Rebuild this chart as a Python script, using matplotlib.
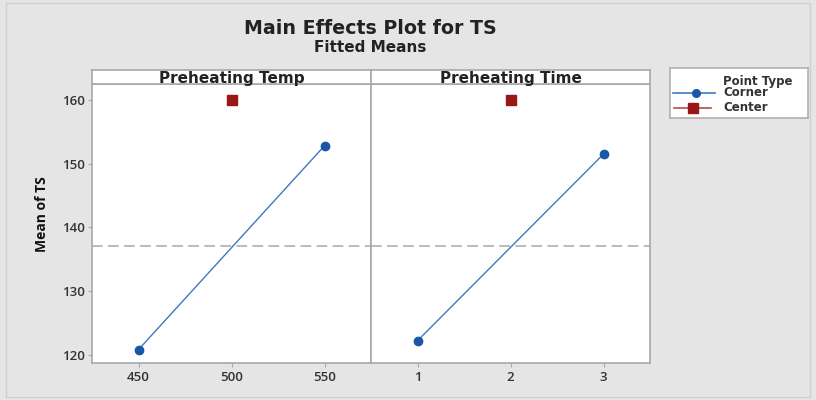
import matplotlib
matplotlib.use("Agg")
import matplotlib.pyplot as plt
from matplotlib.patches import Rectangle

plt.rcParams['font.family'] = ['Open Sans', 'DejaVu Sans']

# Data
factors = ["Preheating Temp", "Preheating Time"]
corner_x = [[450, 550], [1, 3]]
corner_y = [[120.8, 152.8], [122.2, 151.5]]
center_x = [500, 2]
center_y = [160.0, 160.0]
grand_mean = 137.0
xticks = [[450, 500, 550], [1, 2, 3]]
xlims = [(425, 575), (0.5, 3.5)]
yticks = [120, 130, 140, 150, 160]
ylim = (118.7, 162.5)
legend_title = "Point Type"
legend_labels = ["Corner", "Center"]

line_c = "#3f78c2"
corner_c = "#1a56a6"
center_c = "#9a1717"
center_line_c = "#b84a4a"
frame_c = "#a8a8a8"
text_c = "#333333"

fig = plt.figure(figsize=(8.16, 4.0), dpi=100, facecolor="#e5e5e5")
fig.patches.append(Rectangle((0.007, 0.008), 0.986, 0.985, transform=fig.transFigure,
                             fill=False, edgecolor="#cfcfcf", lw=1))

W, H = 816, 400
lefts = [92, 371]
pw = 279
top_plot, bot_plot = 84, 363
head_top = 70

for i in range(2):
    ax = fig.add_axes([lefts[i] / W, 1 - bot_plot / H, pw / W, (bot_plot - top_plot) / H])
    ax.set_facecolor("white")
    ax.plot(corner_x[i], corner_y[i], color=line_c, lw=1.0, zorder=2)
    ax.plot(corner_x[i], corner_y[i], linestyle="none", marker="o", ms=6,
            color=corner_c, zorder=3)
    ax.plot([center_x[i]], [center_y[i]], linestyle="none", marker="s", ms=7,
            color=center_c, zorder=3)
    ax.axhline(grand_mean, color="#a8a8a8", lw=1.1, ls=(0, (7, 3.5)), zorder=1)
    ax.set_xlim(*xlims[i])
    ax.set_ylim(*ylim)
    ax.set_xticks(xticks[i])
    ax.set_xticklabels([str(v) for v in xticks[i]], fontsize=9.5, fontweight="semibold", color=text_c)
    ax.set_yticks(yticks)
    if i == 0:
        ax.set_yticklabels([str(v) for v in yticks], fontsize=9.5, fontweight="semibold", color=text_c)
        ax.tick_params(axis="y", length=3, color=frame_c, pad=2)
    else:
        ax.tick_params(axis="y", left=False, labelleft=False)
    ax.tick_params(axis="x", length=3, color=frame_c, pad=3)
    for s in ax.spines.values():
        s.set_color(frame_c)
        s.set_linewidth(1.2)
    # header strip
    hx = fig.add_axes([lefts[i] / W, 1 - top_plot / H, pw / W, (top_plot - head_top) / H])
    hx.set_facecolor("white")
    hx.set_xticks([])
    hx.set_yticks([])
    for s in hx.spines.values():
        s.set_color(frame_c)
        s.set_linewidth(1.2)
    hx.text(0.5, 0.42, factors[i], ha="center", va="center", fontsize=11,
            fontweight="bold", family="DejaVu Sans", color="#222222", transform=hx.transAxes)

fig.text(42 / W, 1 - 214 / H, "Mean of TS", ha="center", va="center", rotation=90,
         fontsize=10, fontweight="bold", color="#111111")

fig.text(370 / W, 1 - 28 / H, "Main Effects Plot for TS", ha="center", va="center",
         fontsize=13.7, fontweight="bold", family="DejaVu Sans", color="#222222")
fig.text(370 / W, 1 - 48 / H, "Fitted Means", ha="center", va="center",
         fontsize=11, fontweight="bold", family="DejaVu Sans", color="#222222")

# legend box (drawn in its own pixel-like coordinate frame)
lg = fig.add_axes([670 / W, 1 - 118 / H, 138 / W, 50 / H])
lg.set_facecolor("white")
lg.set_xlim(0, 138)
lg.set_ylim(50, 0)
lg.set_xticks([])
lg.set_yticks([])
for s in lg.spines.values():
    s.set_color("#b0b0b0")
    s.set_linewidth(1.2)
lg.text(53, 13, legend_title, ha="left", va="center", fontsize=8.5, fontweight="bold",
        family="DejaVu Sans", color="#333333")
lg.plot([3, 45], [25, 25], color=line_c, lw=1.2)
lg.plot([26], [25], marker="o", ms=5.5, color=corner_c, linestyle="none")
lg.plot([4, 41], [39.5, 39.5], color=center_line_c, lw=1.2)
lg.plot([23], [39.5], marker="s", ms=6.5, color=center_c, linestyle="none")
lg.text(53, 25, legend_labels[0], ha="left", va="center", fontsize=8.5, fontweight="bold",
        family="DejaVu Sans", color="#333333")
lg.text(53, 39.5, legend_labels[1], ha="left", va="center", fontsize=8.5, fontweight="bold",
        family="DejaVu Sans", color="#333333")

fig.savefig("out.png", dpi=100, facecolor=fig.get_facecolor())
